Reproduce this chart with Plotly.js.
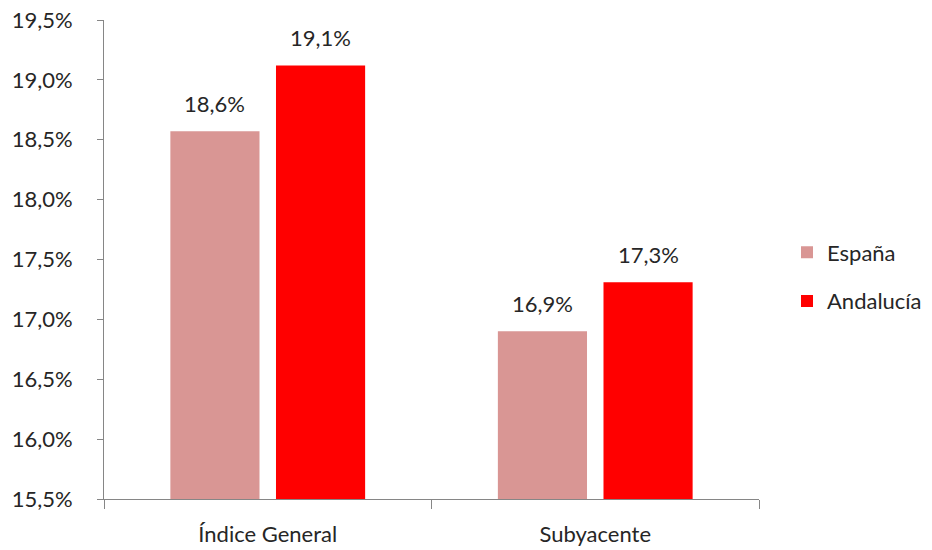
<!DOCTYPE html>
<html>
<head>
<meta charset="utf-8">
<script src="https://cdn.plot.ly/plotly-3.0.1.min.js"></script>
<style>html,body{margin:0;padding:0;background:#fff;}#chart{width:932px;height:550px;}</style>
</head>
<body>
<div id="chart"></div>
<script>
const categories = ["Índice General", "Subyacente"];
const seriesNames = ["España", "Andalucía"];
const espana = [18.57, 16.90];
const andalucia = [19.12, 17.31];
const yTickVals = [15.5, 16.0, 16.5, 17.0, 17.5, 18.0, 18.5, 19.0, 19.5];
const yTickText = yTickVals.map(v => v.toFixed(1).replace(".", ",") + "%");

const colors = ["#D99694", "#FF0000"];
const FONT = "Lato, 'Open Sans', sans-serif";
const TXT = "#262626";
const FS = 22;

const series = [espana, andalucia];
const traces = series.map((vals, i) => ({
  type: "bar",
  name: seriesNames[i],
  x: categories,
  y: vals,
  marker: {color: colors[i]},
  legendgroup: "g" + i,
  hoverinfo: "skip"
}));

const annotations = [];
series.forEach((vals, i) => {
  vals.forEach((v, j) => {
    annotations.push({
      x: categories[j], y: v, xref: "x", yref: "y",
      text: v.toFixed(1).replace(".", ",") + "%",
      showarrow: false, xshift: i === 0 ? -53 : 53, yshift: 28,
      yanchor: "middle", font: {family: FONT, size: FS, color: TXT}
    });
  });
});

const layout = {
  width: 932, height: 550,
  margin: {l: 104, r: 173, t: 20, b: 51, autoexpand: false},
  paper_bgcolor: "#fff", plot_bgcolor: "#fff",
  separators: ",.",
  barmode: "group",
  bargap: 0.355,
  bargroupgap: 0.156,
  font: {family: FONT, size: FS, color: TXT},
  showlegend: true,
  legend: {xref: "container", yref: "container", x: 787/932, y: 1 - 277/550,
    yanchor: "middle", xanchor: "left",
    font: {family: FONT, size: FS, color: TXT},
    traceorder: "grouped", tracegroupgap: 17, itemwidth: 30},
  xaxis: {
    type: "category",
    showline: true, linecolor: "#868686", linewidth: 1,
    ticks: "outside", tickson: "boundaries", ticklen: 9, tickcolor: "#868686",
    showgrid: false, zeroline: false,
    tickfont: {family: FONT, size: FS, color: TXT},
    ticklabelstandoff: 16
  },
  yaxis: {
    range: [15.5, 19.5],
    tickmode: "array",
    tickvals: yTickVals,
    ticktext: yTickText,
    showline: true, linecolor: "#868686", linewidth: 1,
    ticks: "outside", ticklen: 6, tickcolor: "#868686",
    showgrid: false, zeroline: false,
    tickfont: {family: FONT, size: FS, color: TXT},
    ticklabelstandoff: 20
  },
  annotations: annotations
};

Plotly.newPlot("chart", traces, layout, {displayModeBar: false, staticPlot: true});
</script>
</body>
</html>
